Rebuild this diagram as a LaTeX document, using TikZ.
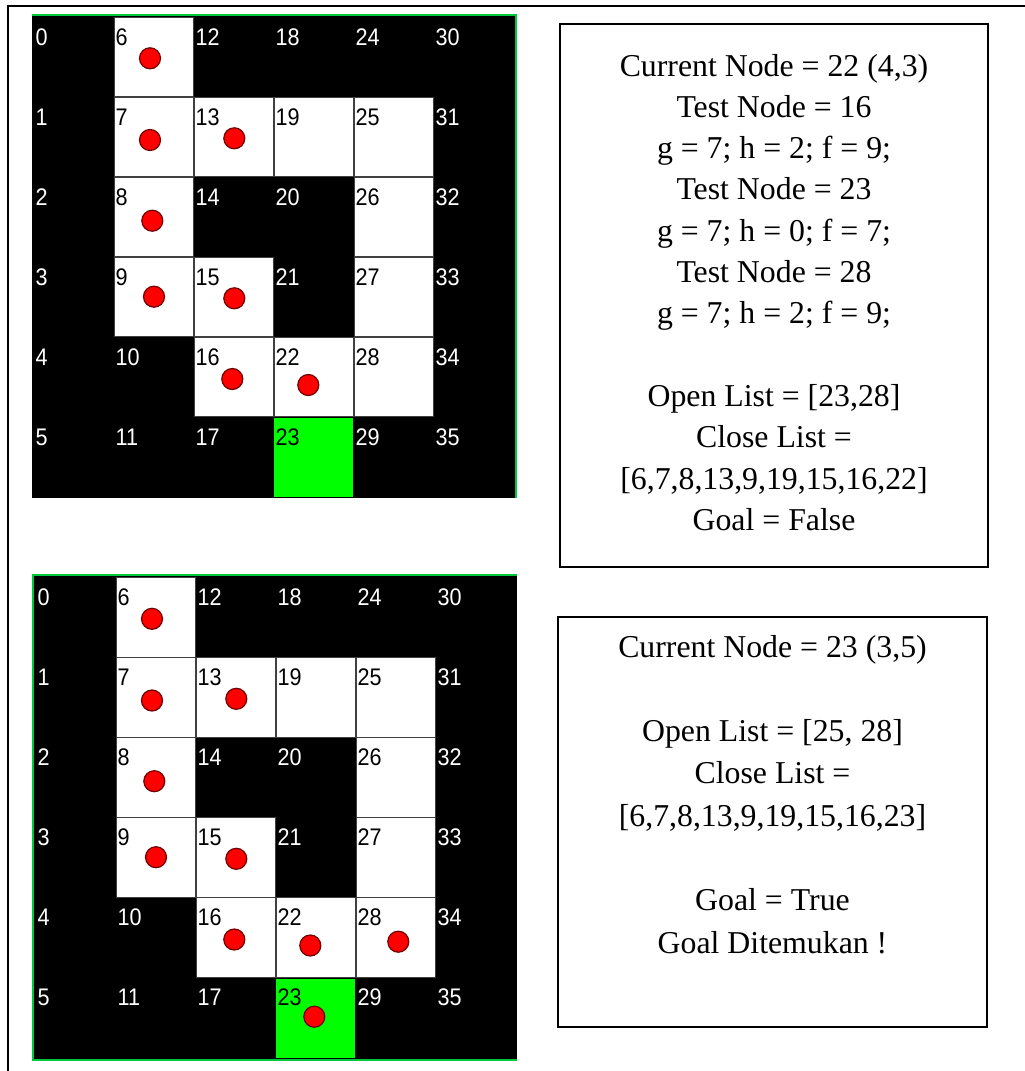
\documentclass[tikz,border=0pt]{standalone}
\usepackage{graphicx}
\usepackage{fontspec}
\setmainfont{Liberation Serif}
\newfontfamily\cellfont{Liberation Sans}
\definecolor{gridgreen}{RGB}{0,200,60}
\definecolor{goalgreen}{RGB}{0,255,0}
\definecolor{dotred}{RGB}{255,0,0}
\definecolor{dotedge}{RGB}{110,0,0}
\foreach \w in {6,7,8,9,13,15,16,19,22,23,25,26,27,28}{\expandafter\gdef\csname mzw\w\endcsname{}}
\newcommand\mazecells[1]{%
  \foreach \c/\r in {1/0,1/1,1/2,1/3,2/1,2/3,2/4,3/1,3/4,4/1,4/2,4/3,4/4}
    \draw[cellbox] ({34+80*\c},{17+80*\r}) rectangle ++(79,79.5);
  \fill[goalgreen] (274,418) rectangle (353,497);
  \foreach \c in {0,...,5}{\foreach \r in {0,...,5}{%
    \pgfmathtruncatemacro\n{6*\c+\r}%
    \ifcsname mzw\n\endcsname\def\lc{black}\else\def\lc{white}\fi
    \node[lab,text=\lc] (#1\n) at ({35.5+80*\c},{45+80*\r}) {\scalebox{0.9}[1]{\n}};
  }}%
}
\begin{document}
\begin{tikzpicture}[x=1pt,y=-1pt,
  cellbox/.style={fill=white,draw=black!75,line width=0.8pt},
  reddot/.style={circle,fill=dotred,draw=dotedge,line width=1.2pt,minimum size=21pt,inner sep=0pt},
  lab/.style={anchor=base west,inner sep=0pt,font=\cellfont\fontsize{24}{24}\selectfont},
  infotext/.style={anchor=base,inner sep=0pt,font=\fontsize{31.8}{40}\selectfont},
  infobox/.style={draw=black,line width=1.5pt,rectangle,inner sep=0pt},
  greenedge/.style={draw=gridgreen,line width=2pt}]
\useasboundingbox (0,0) rectangle (1025,1071);
\fill[white] (0,0) rectangle (1025,1071);
% outer frame
\draw[line width=2pt] (8,1071) -- (8,6) -- (1025,6);

% ---------- top grid ----------
\fill[black] (32,15) rectangle (516,498);
\begin{scope}
  \mazecells{t}
  \foreach \x/\y [count=\i] in {150/58.3,150/140,234.3/138.3,152.3/220.7,154/296.7,234.3/298.3,232.3/379,308.3/385}
    \node[reddot] (td\i) at (\x,\y) {};
\end{scope}
\draw[greenedge] (32,15) -- (516,15) -- (516,498);

% ---------- bottom grid ----------
\fill[black] (33,575) rectangle (517,1060);
\begin{scope}[shift={(2,560.5)}]
  \mazecells{b}
  \foreach \x/\y [count=\i] in {150/58.3,150/140,234.3/138.3,152.3/220.7,154/296.7,234.3/298.3,232.3/379,308.3/385,396.3/381.2,312.3/456.2}
    \node[reddot] (bd\i) at (\x,\y) {};
\end{scope}
\draw[greenedge] (517,575) -- (33,575) -- (33,1060) -- (517,1060);

% ---------- top info box ----------
\node[infobox,minimum width=428pt,minimum height=543pt] (box1) at (774,295.5) {};
\node[infotext] (t1l0) at (774,76) {Current Node = 22 (4,3)};
\node[infotext] (t1l1) at (774,117.3) {Test Node = 16};
\node[infotext] (t1l2) at (774,158.6) {g = 7; h = 2; f = 9;};
\node[infotext] (t1l3) at (774,199.9) {Test Node = 23};
\node[infotext] (t1l4) at (774,241.2) {g = 7; h = 0; f = 7;};
\node[infotext] (t1l5) at (774,282.5) {Test Node = 28};
\node[infotext] (t1l6) at (774,323.8) {g = 7; h = 2; f = 9;};
\node[infotext] (t1l8) at (774,406.4) {Open List = [23,28]};
\node[infotext] (t1l9) at (774,447.7) {Close List =};
\node[infotext] (t1l10) at (774,489) {[6,7,8,13,9,19,15,16,22]};
\node[infotext] (t1l11) at (774,530.3) {Goal = False};

% ---------- bottom info box ----------
\node[infobox,minimum width=429pt,minimum height=410pt] (box2) at (772.5,822) {};
\node[infotext] (t2l0) at (772.5,657) {Current Node = 23 (3,5)};
\node[infotext] (t2l2) at (772.5,741.6) {Open List = [25, 28]};
\node[infotext] (t2l3) at (772.5,783.9) {Close List =};
\node[infotext] (t2l4) at (772.5,826.2) {[6,7,8,13,9,19,15,16,23]};
\node[infotext] (t2l6) at (772.5,910.8) {Goal = True};
\node[infotext] (t2l7) at (772.5,953.1) {Goal Ditemukan !};
\end{tikzpicture}
\end{document}
